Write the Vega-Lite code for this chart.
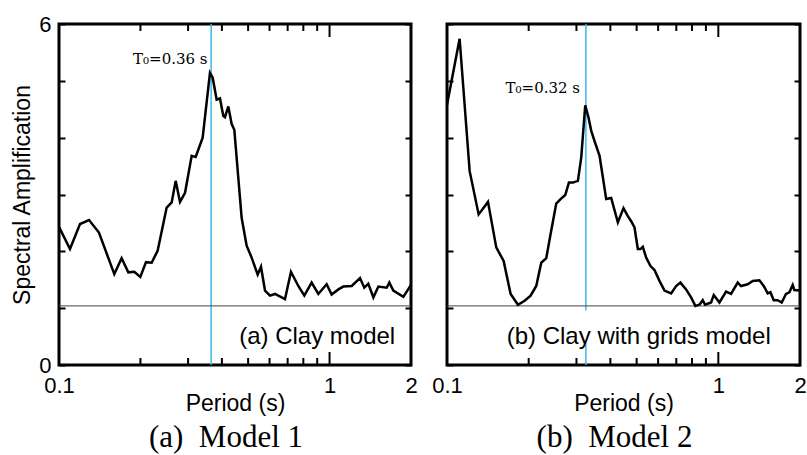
{
  "$schema": "https://vega.github.io/schema/vega-lite/v6.json",
  "background": "white",
  "padding": {"left": 10, "top": 11, "right": 0, "bottom": 0},
  "config": {
    "view": {"stroke": "black", "strokeWidth": 3},
    "font": "Liberation Sans",
    "axis": {"domain": false, "grid": false, "tickColor": "black", "tickWidth": 2, "labelColor": "black", "titleColor": "black", "labelFont": "Liberation Sans", "titleFont": "Liberation Sans", "labelFontSize": 22, "titleFontSize": 23, "titleFontWeight": "normal", "labelOverlap": false, "labelFlush": false},
    "title": {"font": "Liberation Serif", "fontSize": 31, "fontWeight": "normal", "color": "black", "orient": "bottom", "anchor": "middle", "offset": 8, "dx": -9}
  },
  "datasets": {
    "minorT": [{"T": 0.2}, {"T": 0.3}, {"T": 0.4}, {"T": 0.5}, {"T": 0.6}, {"T": 0.7}, {"T": 0.8}, {"T": 0.9}],
    "majorT": [{"T": 1}],
    "m1": [
      {"T": 0.1, "A": 2.43}, {"T": 0.1098, "A": 2.04}, {"T": 0.1196, "A": 2.48}, {"T": 0.1291, "A": 2.55},
      {"T": 0.1405, "A": 2.33}, {"T": 0.1601, "A": 1.6}, {"T": 0.1704, "A": 1.88}, {"T": 0.1804, "A": 1.63},
      {"T": 0.1898, "A": 1.64}, {"T": 0.1998, "A": 1.55}, {"T": 0.2097, "A": 1.81}, {"T": 0.22, "A": 1.8},
      {"T": 0.2315, "A": 2.01}, {"T": 0.25, "A": 2.77}, {"T": 0.2609, "A": 2.86}, {"T": 0.2699, "A": 3.24},
      {"T": 0.2801, "A": 2.87}, {"T": 0.2923, "A": 3.03}, {"T": 0.3093, "A": 3.68}, {"T": 0.32, "A": 3.66},
      {"T": 0.3396, "A": 4.0}, {"T": 0.3614, "A": 5.14}, {"T": 0.3697, "A": 5.06}, {"T": 0.3825, "A": 4.67},
      {"T": 0.3936, "A": 4.69}, {"T": 0.4049, "A": 4.38}, {"T": 0.4107, "A": 4.36}, {"T": 0.4225, "A": 4.55},
      {"T": 0.4347, "A": 4.24}, {"T": 0.4446, "A": 4.14}, {"T": 0.4732, "A": 2.59}, {"T": 0.4938, "A": 2.1},
      {"T": 0.5152, "A": 1.89}, {"T": 0.5424, "A": 1.59}, {"T": 0.558, "A": 1.73}, {"T": 0.5773, "A": 1.31},
      {"T": 0.6024, "A": 1.22}, {"T": 0.6286, "A": 1.25}, {"T": 0.6844, "A": 1.16}, {"T": 0.7201, "A": 1.64},
      {"T": 0.7665, "A": 1.39}, {"T": 0.8068, "A": 1.22}, {"T": 0.8585, "A": 1.45}, {"T": 0.9088, "A": 1.25},
      {"T": 0.9756, "A": 1.42}, {"T": 1.018, "A": 1.24}, {"T": 1.078, "A": 1.33}, {"T": 1.124, "A": 1.38},
      {"T": 1.207, "A": 1.39}, {"T": 1.296, "A": 1.53}, {"T": 1.344, "A": 1.36}, {"T": 1.391, "A": 1.43},
      {"T": 1.452, "A": 1.19}, {"T": 1.515, "A": 1.38}, {"T": 1.626, "A": 1.36}, {"T": 1.663, "A": 1.45},
      {"T": 1.721, "A": 1.31}, {"T": 1.874, "A": 1.2}, {"T": 2.0, "A": 1.41}
    ],
    "m2": [
      {"T": 0.1, "A": 4.58}, {"T": 0.1113, "A": 5.74}, {"T": 0.1212, "A": 3.41}, {"T": 0.1308, "A": 2.65},
      {"T": 0.1416, "A": 2.87}, {"T": 0.1519, "A": 2.07}, {"T": 0.1617, "A": 1.83}, {"T": 0.1716, "A": 1.25},
      {"T": 0.1826, "A": 1.06}, {"T": 0.1932, "A": 1.13}, {"T": 0.2033, "A": 1.22}, {"T": 0.2133, "A": 1.39},
      {"T": 0.2225, "A": 1.8}, {"T": 0.2322, "A": 1.88}, {"T": 0.2408, "A": 2.3}, {"T": 0.2527, "A": 2.84},
      {"T": 0.2622, "A": 2.92}, {"T": 0.2728, "A": 2.99}, {"T": 0.2814, "A": 3.21}, {"T": 0.2911, "A": 3.21},
      {"T": 0.3037, "A": 3.24}, {"T": 0.3124, "A": 3.65}, {"T": 0.3232, "A": 4.57}, {"T": 0.3325, "A": 4.35},
      {"T": 0.3401, "A": 4.12}, {"T": 0.3498, "A": 3.94}, {"T": 0.365, "A": 3.68}, {"T": 0.3861, "A": 2.92},
      {"T": 0.4028, "A": 2.94}, {"T": 0.4263, "A": 2.51}, {"T": 0.4472, "A": 2.76}, {"T": 0.464, "A": 2.62},
      {"T": 0.4773, "A": 2.53}, {"T": 0.491, "A": 2.42}, {"T": 0.505, "A": 2.04}, {"T": 0.5166, "A": 2.04},
      {"T": 0.5269, "A": 2.08}, {"T": 0.542, "A": 1.89}, {"T": 0.5623, "A": 1.74}, {"T": 0.5817, "A": 1.67},
      {"T": 0.6069, "A": 1.48}, {"T": 0.6332, "A": 1.31}, {"T": 0.67, "A": 1.26}, {"T": 0.699, "A": 1.39},
      {"T": 0.725, "A": 1.45}, {"T": 0.7606, "A": 1.33}, {"T": 0.7935, "A": 1.19}, {"T": 0.8232, "A": 1.04},
      {"T": 0.8516, "A": 1.06}, {"T": 0.8761, "A": 1.14}, {"T": 0.8936, "A": 1.06}, {"T": 0.9406, "A": 1.1},
      {"T": 0.962, "A": 1.23}, {"T": 1.0094, "A": 1.1}, {"T": 1.068, "A": 1.29}, {"T": 1.114, "A": 1.25},
      {"T": 1.179, "A": 1.45}, {"T": 1.213, "A": 1.39}, {"T": 1.283, "A": 1.42}, {"T": 1.339, "A": 1.48},
      {"T": 1.417, "A": 1.49}, {"T": 1.47, "A": 1.39}, {"T": 1.521, "A": 1.26}, {"T": 1.556, "A": 1.28},
      {"T": 1.6, "A": 1.14}, {"T": 1.655, "A": 1.14}, {"T": 1.712, "A": 1.1}, {"T": 1.776, "A": 1.25},
      {"T": 1.827, "A": 1.28}, {"T": 1.88, "A": 1.41}, {"T": 1.906, "A": 1.32}, {"T": 2.0, "A": 1.31}
    ]
  },
  "hconcat": [
    {
      "width": 352, "height": 341,
      "title": {"text": "(a)\u00a0 Model 1"},
      "resolve": {"axis": {"x": "independent", "y": "independent"}},
      "layer": [
        {
          "data": {"values": [{"T0": 0.365}]},
          "mark": {"type": "rule", "color": "#3cb8ea", "strokeWidth": 1.5},
          "encoding": {
            "x": {"field": "T0", "type": "quantitative", "scale": {"type": "log", "domain": [0.1, 2], "nice": false}, "axis": null}
          }
        },
        {
          "data": {"values": [{"ref": 1.04}]},
          "mark": {"type": "rule", "color": "#444444", "strokeWidth": 1},
          "encoding": {
            "y": {"field": "ref", "type": "quantitative", "scale": {"domain": [0, 6], "nice": false, "zero": false},
              "axis": {"orient": "right", "title": null, "labels": false, "values": [0,1,2,3,4,5,6], "tickSize": -6}}
          }
        },
        {
          "data": {"name": "minorT"},
          "mark": {"type": "rule", "color": "black", "strokeWidth": 2, "y2Offset": -7},
          "encoding": {
            "x": {"field": "T", "type": "quantitative", "scale": {"type": "log", "domain": [0.1, 2], "nice": false}, "axis": null},
            "y": {"datum": 0, "type": "quantitative", "scale": {"domain": [0, 6], "nice": false, "zero": false}, "axis": null},
            "y2": {"datum": 0}
          }
        },
        {
          "data": {"name": "minorT"},
          "mark": {"type": "rule", "color": "black", "strokeWidth": 2, "y2Offset": 7},
          "encoding": {
            "x": {"field": "T", "type": "quantitative", "scale": {"type": "log", "domain": [0.1, 2], "nice": false}, "axis": null},
            "y": {"datum": 6, "type": "quantitative", "scale": {"domain": [0, 6], "nice": false, "zero": false}, "axis": null},
            "y2": {"datum": 6}
          }
        },
        {
          "data": {"name": "majorT"},
          "mark": {"type": "rule", "color": "black", "strokeWidth": 2, "y2Offset": -13},
          "encoding": {
            "x": {"field": "T", "type": "quantitative", "scale": {"type": "log", "domain": [0.1, 2], "nice": false}, "axis": null},
            "y": {"datum": 0, "type": "quantitative", "scale": {"domain": [0, 6], "nice": false, "zero": false}, "axis": null},
            "y2": {"datum": 0}
          }
        },
        {
          "data": {"name": "majorT"},
          "mark": {"type": "rule", "color": "black", "strokeWidth": 2, "y2Offset": 13},
          "encoding": {
            "x": {"field": "T", "type": "quantitative", "scale": {"type": "log", "domain": [0.1, 2], "nice": false}, "axis": null},
            "y": {"datum": 6, "type": "quantitative", "scale": {"domain": [0, 6], "nice": false, "zero": false}, "axis": null},
            "y2": {"datum": 6}
          }
        },
        {
          "data": {"name": "m1"},
          "mark": {"type": "line", "color": "black", "strokeWidth": 2.5},
          "encoding": {
            "x": {"field": "T", "type": "quantitative", "scale": {"type": "log", "domain": [0.1, 2], "nice": false},
              "axis": {"orient": "bottom", "title": "Period (s)", "values": [0.1, 1, 2], "format": "~g",
                "ticks": false, "labelPadding": 10, "titlePadding": -4}},
            "y": {"field": "A", "type": "quantitative", "scale": {"domain": [0, 6], "nice": false, "zero": false},
              "axis": {"orient": "left", "title": "Spectral Amplification", "values": [0,1,2,3,4,5,6],
                "labelExpr": "datum.value == 0 || datum.value == 6 ? datum.label : ''", "tickSize": -6, "labelPadding": 14, "titlePadding": 4}}
          }
        },
        {
          "data": {"values": [{"T": 0.36, "A": 5.3, "label": "T₀=0.36 s"}]},
          "mark": {"type": "text", "font": "DejaVu Serif", "fontSize": 15, "align": "right", "baseline": "alphabetic", "dx": -2, "color": "black"},
          "encoding": {
            "x": {"field": "T", "type": "quantitative", "scale": {"type": "log", "domain": [0.1, 2], "nice": false}, "axis": null},
            "y": {"field": "A", "type": "quantitative", "scale": {"domain": [0, 6], "nice": false, "zero": false}, "axis": null},
            "text": {"field": "label"}
          }
        },
        {
          "data": {"values": [{"T": 0.9, "A": 0.49, "label": "(a) Clay model"}]},
          "mark": {"type": "text", "font": "Liberation Sans", "fontSize": 24, "align": "center", "baseline": "middle", "color": "black"},
          "encoding": {
            "x": {"field": "T", "type": "quantitative", "scale": {"type": "log", "domain": [0.1, 2], "nice": false}, "axis": null},
            "y": {"field": "A", "type": "quantitative", "scale": {"domain": [0, 6], "nice": false, "zero": false}, "axis": null},
            "text": {"field": "label"}
          }
        }
      ]
    },
    {
      "width": 353, "height": 341,
      "title": {"text": "(b)\u00a0 Model 2"},
      "resolve": {"axis": {"x": "independent", "y": "independent"}},
      "layer": [
        {
          "data": {"values": [{"T0": 0.325}]},
          "mark": {"type": "rule", "color": "#3cb8ea", "strokeWidth": 1.5},
          "encoding": {
            "x": {"field": "T0", "type": "quantitative", "scale": {"type": "log", "domain": [0.1, 2], "nice": false}, "axis": null}
          }
        },
        {
          "data": {"values": [{"x1": 0.165, "x2": 1.56, "y1": 0.38, "y2": 0.96}]},
          "mark": {"type": "rect", "color": "white"},
          "encoding": {
            "x": {"field": "x1", "type": "quantitative", "scale": {"type": "log", "domain": [0.1, 2], "nice": false}, "axis": null},
            "x2": {"field": "x2"},
            "y": {"field": "y1", "type": "quantitative", "scale": {"domain": [0, 6], "nice": false, "zero": false}, "axis": null},
            "y2": {"field": "y2"}
          }
        },
        {
          "data": {"values": [{"ref": 1.04}]},
          "mark": {"type": "rule", "color": "#444444", "strokeWidth": 1},
          "encoding": {
            "y": {"field": "ref", "type": "quantitative", "scale": {"domain": [0, 6], "nice": false, "zero": false},
              "axis": {"orient": "right", "title": null, "labels": false, "values": [0,1,2,3,4,5,6], "tickSize": -6}}
          }
        },
        {
          "data": {"name": "minorT"},
          "mark": {"type": "rule", "color": "black", "strokeWidth": 2, "y2Offset": -7},
          "encoding": {
            "x": {"field": "T", "type": "quantitative", "scale": {"type": "log", "domain": [0.1, 2], "nice": false}, "axis": null},
            "y": {"datum": 0, "type": "quantitative", "scale": {"domain": [0, 6], "nice": false, "zero": false}, "axis": null},
            "y2": {"datum": 0}
          }
        },
        {
          "data": {"name": "minorT"},
          "mark": {"type": "rule", "color": "black", "strokeWidth": 2, "y2Offset": 7},
          "encoding": {
            "x": {"field": "T", "type": "quantitative", "scale": {"type": "log", "domain": [0.1, 2], "nice": false}, "axis": null},
            "y": {"datum": 6, "type": "quantitative", "scale": {"domain": [0, 6], "nice": false, "zero": false}, "axis": null},
            "y2": {"datum": 6}
          }
        },
        {
          "data": {"name": "majorT"},
          "mark": {"type": "rule", "color": "black", "strokeWidth": 2, "y2Offset": -13},
          "encoding": {
            "x": {"field": "T", "type": "quantitative", "scale": {"type": "log", "domain": [0.1, 2], "nice": false}, "axis": null},
            "y": {"datum": 0, "type": "quantitative", "scale": {"domain": [0, 6], "nice": false, "zero": false}, "axis": null},
            "y2": {"datum": 0}
          }
        },
        {
          "data": {"name": "majorT"},
          "mark": {"type": "rule", "color": "black", "strokeWidth": 2, "y2Offset": 13},
          "encoding": {
            "x": {"field": "T", "type": "quantitative", "scale": {"type": "log", "domain": [0.1, 2], "nice": false}, "axis": null},
            "y": {"datum": 6, "type": "quantitative", "scale": {"domain": [0, 6], "nice": false, "zero": false}, "axis": null},
            "y2": {"datum": 6}
          }
        },
        {
          "data": {"name": "m2"},
          "mark": {"type": "line", "color": "black", "strokeWidth": 2.5},
          "encoding": {
            "x": {"field": "T", "type": "quantitative", "scale": {"type": "log", "domain": [0.1, 2], "nice": false},
              "axis": {"orient": "bottom", "title": "Period (s)", "values": [0.1, 1, 2], "format": "~g",
                "ticks": false, "labelPadding": 10, "titlePadding": -4}},
            "y": {"field": "A", "type": "quantitative", "scale": {"domain": [0, 6], "nice": false, "zero": false},
              "axis": {"orient": "left", "title": null, "labels": false, "values": [0,1,2,3,4,5,6], "tickSize": -6}}
          }
        },
        {
          "data": {"values": [{"T": 0.32, "A": 4.78, "label": "T₀=0.32 s"}]},
          "mark": {"type": "text", "font": "DejaVu Serif", "fontSize": 15, "align": "right", "baseline": "alphabetic", "dx": -4, "color": "black"},
          "encoding": {
            "x": {"field": "T", "type": "quantitative", "scale": {"type": "log", "domain": [0.1, 2], "nice": false}, "axis": null},
            "y": {"field": "A", "type": "quantitative", "scale": {"domain": [0, 6], "nice": false, "zero": false}, "axis": null},
            "text": {"field": "label"}
          }
        },
        {
          "data": {"values": [{"T": 0.509, "A": 0.49, "label": "(b) Clay with grids model"}]},
          "mark": {"type": "text", "font": "Liberation Sans", "fontSize": 24, "align": "center", "baseline": "middle", "color": "black"},
          "encoding": {
            "x": {"field": "T", "type": "quantitative", "scale": {"type": "log", "domain": [0.1, 2], "nice": false}, "axis": null},
            "y": {"field": "A", "type": "quantitative", "scale": {"domain": [0, 6], "nice": false, "zero": false}, "axis": null},
            "text": {"field": "label"}
          }
        }
      ]
    }
  ],
  "spacing": 36,
  "bounds": "flush"
}
